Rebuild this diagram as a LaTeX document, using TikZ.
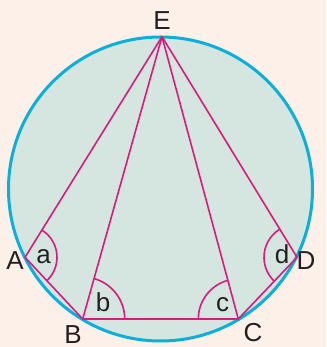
\documentclass[tikz,border=0pt]{standalone}
\usepackage{fontspec}
\setmainfont{Liberation Sans}
\usetikzlibrary{angles}
\definecolor{bgpeach}{HTML}{FDF0E8}
\definecolor{discfill}{HTML}{D5E6E0}
\definecolor{rimcyan}{HTML}{0AAFDD}
\definecolor{chordmag}{HTML}{D81B7C}
\definecolor{labelink}{HTML}{231F20}
\tikzset{
  chord/.style={draw=chordmag, line width=1.6pt, line join=round},
  anglemark/.style={draw=chordmag, line width=1.6pt},
  ptlabel/.style={anchor=base, inner sep=0pt, text=labelink, font=\fontsize{26}{26}\selectfont},
  anglabel/.style={anchor=base, inner sep=0pt, text=labelink, font=\fontsize{26}{26}\selectfont}
}
\begin{document}
\begin{tikzpicture}[x=1pt,y=1pt]
\useasboundingbox (0,0) rectangle (326,347);
\fill[bgpeach] (0,0) rectangle (326,347);
% disc
\filldraw[fill=discfill, draw=rimcyan, line width=3pt] (160.5,158) circle[radius=152];
% points
\coordinate (E) at (162,310.3);
\coordinate (A) at (25,89.7);
\coordinate (B) at (82.7,28);
\coordinate (C) at (238.3,28);
\coordinate (D) at (297,89.7);
% chords
\draw[chord] (E) -- (A) -- (B) -- (C) -- (D) -- cycle;
\draw[chord] (B) -- (E) -- (C);
% angle marks
\pic[anglemark, angle radius=32pt] {angle = B--A--E};
\pic[anglemark, angle radius=42pt] {angle = C--B--E};
\pic[anglemark, angle radius=40pt] {angle = E--C--B};
\pic[anglemark, angle radius=33pt] {angle = E--D--C};
% point labels
\node[ptlabel] (lE) at (162,317.5) {E};
\node[ptlabel] (lA) at (15,77) {A};
\node[ptlabel] (lB) at (73,4) {B};
\node[ptlabel] (lC) at (253,5.3) {C};
\node[ptlabel] (lD) at (306,77) {D};
% angle labels
\node[anglabel] (la) at (43.5,83.7) {a};
\node[anglabel] (lb) at (103,35.3) {b};
\node[anglabel] (lc) at (222.5,35.3) {c};
\node[anglabel] (ld) at (282,83) {d};
\end{tikzpicture}
\end{document}
